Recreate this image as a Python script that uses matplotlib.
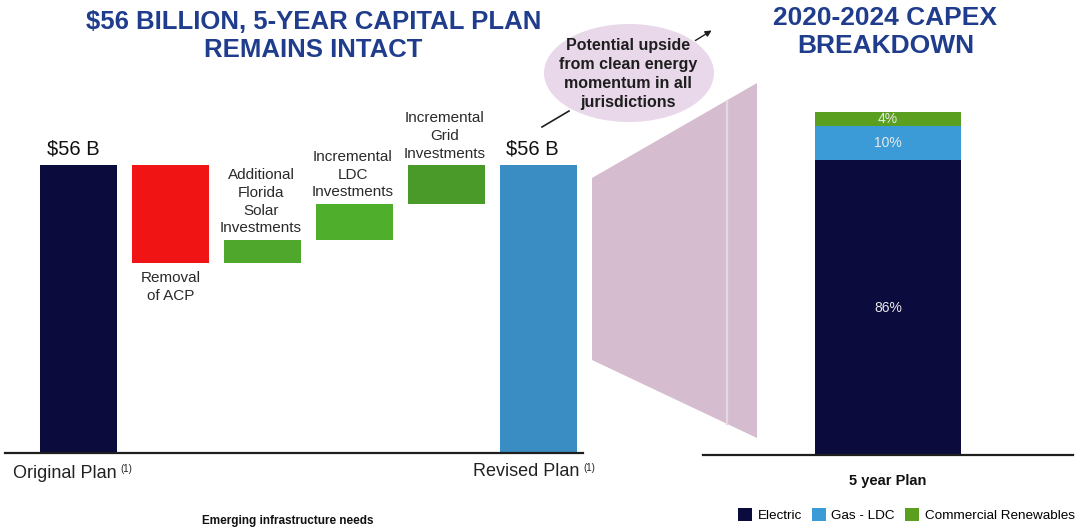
import matplotlib
matplotlib.use("Agg")
import matplotlib.pyplot as plt
from matplotlib.patches import Polygon, Ellipse, FancyArrowPatch
from matplotlib.lines import Line2D
from matplotlib import font_manager

# ---- data -----------------------------------------------------------------
# Capital plan bridge, $ billions
steps = ["Original Plan", "Removal of ACP", "Additional Florida Solar Investments",
         "Incremental LDC Investments", "Incremental Grid Investments", "Revised Plan"]
step_labels = ["", "Removal\nof ACP", "Additional\nFlorida\nSolar\nInvestments",
               "Incremental\nLDC\nInvestments", "Incremental\nGrid\nInvestments", ""]
step_values = [56, -19, 4.5, 7, 7.5, 56]
total_labels = ["$56 B", "$56 B"]

# 2020-2024 capex mix, percent
mix_segments = ["Electric", "Gas - LDC", "Commercial Renewables"]
mix_values = [86, 10, 4]
mix_category = "5 year Plan"

# ---- styling ----------------------------------------------------------------
W, H = 1082, 530
TITLE = "#1f3d8c"
step_colors = ["#0b0b3d", "#f01414", "#4fa82b", "#4fae2c", "#4a9a2a", "#3a8dc2"]
mix_colors = ["#0b0b3d", "#3b9bd6", "#5a9f1f"]

names = {f.name for f in font_manager.fontManager.ttflist}
SANS = "Liberation Sans" if "Liberation Sans" in names else "DejaVu Sans"
plt.rcParams["font.family"] = [SANS, "DejaVu Sans"]

fig = plt.figure(figsize=(W / 100, H / 100), dpi=100)


def fx(x):
    return x / W


def fy(y):
    return 1 - y / H


# ---- left: waterfall ---------------------------------------------------------
ax = fig.add_axes([fx(5), fy(453), 578 / W, 308.6 / H])
bottoms, heights = [], []
level = 0.0
last = len(step_values) - 1
for i, v in enumerate(step_values):
    if i == 0 or i == last:
        bottoms.append(0.0)
        heights.append(v)
        level = v
    elif v < 0:
        bottoms.append(level + v)
        heights.append(-v)
        level += v
    else:
        bottoms.append(level)
        heights.append(v)
        level += v

xs = list(range(len(steps)))
ax.bar(xs, heights, bottom=bottoms, width=0.838, color=step_colors, linewidth=0)
ax.set_xlim(-0.80, 5.489)
ax.set_ylim(0, 60)
for s in ("top", "left", "right"):
    ax.spines[s].set_visible(False)
ax.spines["bottom"].set_color("#1e1e1e")
ax.spines["bottom"].set_linewidth(1.6)
ax.set_xticks([])
ax.set_yticks([])
ax.patch.set_alpha(0)

# totals
for i, lab in zip([0, last], total_labels):
    ax.annotate(lab, (i, bottoms[i] + heights[i]), xytext=(-4, 5),
                textcoords="offset points", ha="center", va="bottom",
                fontsize=14.5, color="#111111")

# step descriptions
for i in range(1, last):
    lab = step_labels[i]
    if step_values[i] < 0:
        ax.annotate(lab, (i, bottoms[i]), xytext=(0, -6), textcoords="offset points",
                    ha="center", va="top", fontsize=11, color="#2a2a2a",
                    linespacing=1.35)
    else:
        ax.annotate(lab, (i, bottoms[i] + heights[i]), xytext=(-1, 3),
                    textcoords="offset points", ha="center", va="bottom",
                    fontsize=11, color="#2a2a2a", linespacing=1.35)

# plan names under the axis
t1 = fig.text(fx(13), fy(473), steps[0], ha="left", va="center",
              fontsize=13, color="#222222")
ax.annotate("(1)", xy=(1, 0.75), xycoords=t1, xytext=(3, 0),
            textcoords="offset points", ha="left", va="center", fontsize=7,
            color="#222222")
t2 = fig.text(fx(473), fy(472), steps[last], ha="left", va="center",
              fontsize=13, color="#222222")
ax.annotate("(1)", xy=(1, 0.75), xycoords=t2, xytext=(3, 0),
            textcoords="offset points", ha="left", va="center", fontsize=7,
            color="#222222")

fig.text(fx(288), fy(521), "Emerging infrastructure needs", ha="center", va="center",
         fontsize=8.5, fontweight="bold", color="#111111")

# titles
fig.text(fx(314), fy(22), "$56 BILLION, 5-YEAR CAPITAL PLAN", ha="center",
         va="center", fontsize=18.5, fontweight="bold", color=TITLE)
fig.text(fx(313), fy(50), "REMAINS INTACT", ha="center", va="center",
         fontsize=18.5, fontweight="bold", color=TITLE)
fig.text(fx(885), fy(18), "2020-2024 CAPEX", ha="center", va="center",
         fontsize=19, fontweight="bold", color=TITLE)
fig.text(fx(886), fy(46), "BREAKDOWN", ha="center", va="center",
         fontsize=19, fontweight="bold", color=TITLE)

# callout bubble
bubble = Ellipse((fx(629), fy(73)), 170 / W, 98 / H, transform=fig.transFigure,
                 facecolor="#e8d8ea", edgecolor="none", zorder=1)
fig.patches.append(bubble)
fig.text(fx(628), fy(74),
         "Potential upside\nfrom clean energy\nmomentum in all\njurisdictions",
         ha="center", va="center", fontsize=11.5, fontweight="bold",
         color="#1e1e1e", linespacing=1.33, zorder=3)
fig.lines.append(Line2D([fx(542), fx(569)], [fy(127), fy(111)],
                        transform=fig.transFigure, color="#1e1e1e", lw=1.2))
fig.patches.append(FancyArrowPatch((fx(693), fy(42)), (fx(714), fy(29)),
                                   transform=fig.transFigure, arrowstyle="-|>",
                                   mutation_scale=9, color="#1e1e1e", lw=1.0))

# connector shape toward the breakdown
fig.patches.append(Polygon([(fx(592), fy(178)), (fx(757), fy(83)),
                            (fx(757), fy(438)), (fx(592), fy(360))],
                           closed=True, transform=fig.transFigure,
                           facecolor="#d5bdcf", edgecolor="none", zorder=1))
fig.lines.append(Line2D([fx(727), fx(727)], [fy(101), fy(424)],
                        transform=fig.transFigure, color="#e6d8e1", lw=1.6,
                        zorder=2))

# ---- right: capex mix ----------------------------------------------------------
ax2 = fig.add_axes([fx(703), fy(455), 370 / W, 343 / H])
base = 0
for name, v, c in zip(mix_segments, mix_values, mix_colors):
    ax2.bar(0, v, bottom=base, width=1.0, color=c, label=name, linewidth=0)
    ax2.text(0, base + v / 2, f"{v}%", ha="center", va="center",
             fontsize=10, color="#e8e8e8")
    base += v
ax2.set_xlim(-1.267, 1.267)
ax2.set_ylim(0, 100)
for s in ("top", "left", "right"):
    ax2.spines[s].set_visible(False)
ax2.spines["bottom"].set_color("#1e1e1e")
ax2.spines["bottom"].set_linewidth(1.6)
ax2.set_yticks([])
ax2.set_xticks([0])
ax2.set_xticklabels([mix_category], fontsize=10.5, fontweight="bold",
                    color="#111111")
ax2.tick_params(axis="x", length=0, pad=14)
ax2.patch.set_alpha(0)

ax2.legend(loc="center left", bbox_to_anchor=(fx(738), fy(515)),
           bbox_transform=fig.transFigure, ncol=3, frameon=False,
           handlelength=1.05, handleheight=1.05, handletextpad=0.4,
           columnspacing=0.75, borderaxespad=0, borderpad=0,
           prop={"size": 9.7})

fig.savefig("out.png", dpi=100)
